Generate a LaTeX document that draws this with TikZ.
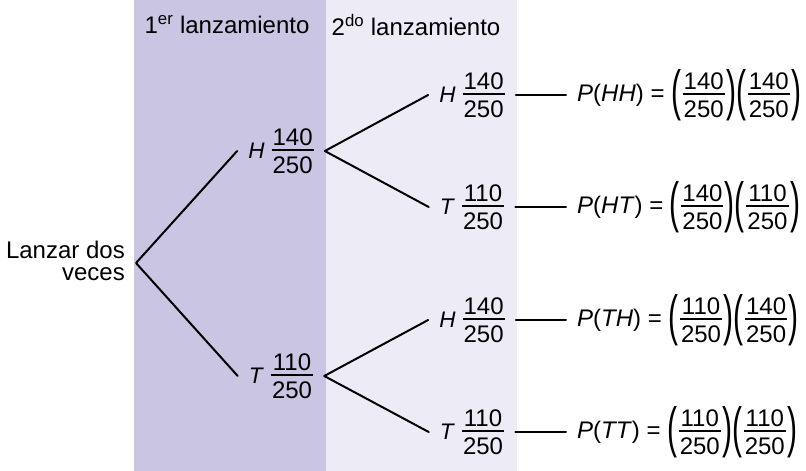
\documentclass[tikz,border=0pt]{standalone}
\usepackage{graphicx}
\usepackage{fontspec}
\setmainfont{Liberation Sans}
\definecolor{bandone}{HTML}{C9C5E3}
\definecolor{bandtwo}{HTML}{EDEBF6}
% a stacked fraction in the text font, centred on the math axis
\newcommand{\chance}[2]{\ensuremath{\vcenter{\offinterlineskip
  \halign{\hskip1pt\hfil##\hfil\hskip1pt\cr #1\cr
    \noalign{\kern3.3pt\hrule height 2pt\kern5.5pt}#2\cr}}}}
\newcommand{\tallpar}[1]{\ensuremath{\vcenter{\hbox{\scalebox{1.25}[2.3]{#1}}}}}
\newcommand{\face}[1]{\ensuremath{\vcenter{\hbox{\fontsize{22.5}{24}\selectfont\textit{#1}}}}\kern7pt}
\newcommand{\pair}[2]{\ensuremath{\tallpar{(}\kern1.5pt\chance{#1}{250}\kern1.5pt\tallpar{)}%
  \tallpar{(}\kern1.5pt\chance{#2}{250}\kern1.5pt\tallpar{)}}}

\begin{document}
\begin{tikzpicture}[
  x=1pt, y=-1pt,
  line join=round, line cap=round,
  branch/.style={line width=2pt},
  lbl/.style={font=\fontsize{24}{22}\selectfont, inner sep=0pt},
  toss/.style={lbl, inner xsep=11pt},
]
\useasboundingbox (0,0) rectangle (806,471);

% ── the two columns, one for each toss ────────────────────────────────────
\fill[bandone] (134,0) rectangle (326,471);
\fill[bandtwo] (326,0) rectangle (517,471);

\node[lbl] (headone) at (227,25) {1\textsuperscript{er} lanzamiento};
\node[lbl] (headtwo) at (416,25) {2\textsuperscript{do} lanzamiento};

% ── where it starts ───────────────────────────────────────────────────────
\node[lbl, align=right, anchor=east] (start) at (125,261) {Lanzar dos\\veces};
\coordinate (root) at (136,263);

% ── first toss ────────────────────────────────────────────────────────────
\node[toss] (h) at (281,151) {\face{H}\chance{140}{250}};
\node[toss] (t) at (281,376) {\face{T}\chance{110}{250}};

% ── second toss ───────────────────────────────────────────────────────────
\node[toss] (hh) at (472,95)  {\face{H}\chance{140}{250}};
\node[toss] (ht) at (472,207) {\face{T}\chance{110}{250}};
\node[toss] (th) at (472,320) {\face{H}\chance{140}{250}};
\node[toss] (tt) at (472,432) {\face{T}\chance{110}{250}};

% ── the four products ─────────────────────────────────────────────────────
\node[toss, anchor=west] (phh) at (566,95)  {\textit{P}(\textit{HH}) = \pair{140}{140}};
\node[toss, anchor=west] (pht) at (566,207) {\textit{P}(\textit{HT}) = \pair{140}{110}};
\node[toss, anchor=west] (pth) at (566,320) {\textit{P}(\textit{TH}) = \pair{110}{140}};
\node[toss, anchor=west] (ptt) at (566,432) {\textit{P}(\textit{TT}) = \pair{110}{110}};

% ── branches ──────────────────────────────────────────────────────────────
\draw[branch] (h.west) -- (root) -- (t.west);
\draw[branch] (hh.west) -- (h.east) -- (ht.west);
\draw[branch] (th.west) -- (t.east) -- (tt.west);

\draw[branch] (hh) -- (phh);
\draw[branch] (ht) -- (pht);
\draw[branch] (th) -- (pth);
\draw[branch] (tt) -- (ptt);

\end{tikzpicture}
\end{document}
